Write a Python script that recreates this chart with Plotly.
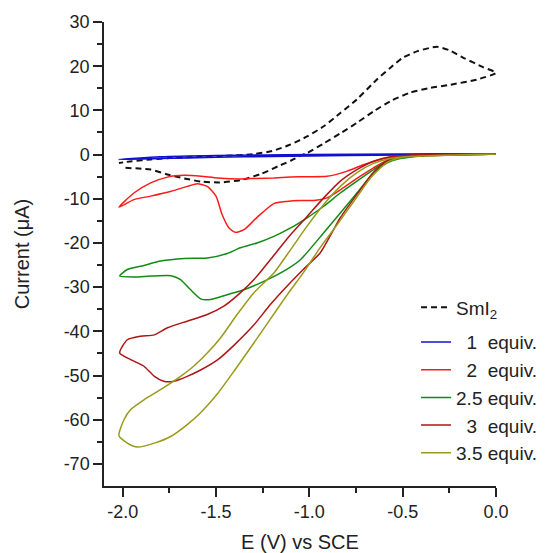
import plotly.graph_objects as go

# ---- data (E in V vs SCE, I in µA) ----
smi2_E = [-1.985, -1.90, -1.85, -1.76, -1.67, -1.58, -1.48, -1.37, -1.26, -1.155, -1.10, -1.05, -1.01,
          -0.92, -0.83, -0.745, -0.655, -0.565, -0.46, -0.35, -0.245, -0.10, 0.0,
          -0.07, -0.175, -0.25, -0.317, -0.42, -0.50, -0.567, -0.638, -0.745, -0.834, -0.923,
          -1.012, -1.10, -1.20, -1.30, -1.45, -1.60, -1.75, -1.85, -1.95, -2.02]
smi2_I = [-3.0, -3.2, -3.4, -4.5, -5.4, -6.1, -6.3, -5.8, -4.4, -2.4, -1.4, -0.3, 0.4,
          2.6, 4.9, 7.2, 9.8, 12.1, 14.0, 15.1, 15.8, 17.0, 18.5,
          19.8, 21.9, 23.6, 24.4, 23.4, 21.9, 19.6, 17.0, 12.5, 9.4, 6.4,
          4.1, 2.3, 0.8, 0.1, -0.3, -0.5, -0.8, -1.1, -1.5, -1.9]

eq1_E = [0.0, -0.5, -1.0, -1.5, -1.8, -2.02, -1.8, -1.5, -1.2, -0.8, -0.5, 0.0]
eq1_I = [0.2, 0.1, 0.0, -0.2, -0.5, -1.1, -0.9, -0.6, -0.4, -0.2, -0.1, 0.2]

eq2_E = [0.0, -0.26, -0.37, -0.513, -0.62, -0.71, -0.80, -0.905, -1.012, -1.10, -1.19, -1.29, -1.37,
         -1.49, -1.58, -1.67, -1.76, -1.85, -1.94, -2.02,
         -1.94, -1.85, -1.74, -1.654, -1.60, -1.547, -1.50, -1.467, -1.43, -1.396, -1.35, -1.28,
         -1.19, -1.12, -1.048, -0.977, -0.905, -0.817, -0.727, -0.656, -0.585, -0.513, -0.37, 0.0]
eq2_I = [0.1, 0.0, -0.1, -0.4, -1.1, -2.3, -3.8, -4.9, -5.0, -5.1, -5.3, -5.4, -5.5,
         -5.3, -4.9, -4.7, -5.1, -6.4, -8.7, -11.9,
         -10.2, -9.4, -8.3, -7.2, -6.6, -7.2, -9.4, -13.6, -16.6, -17.6, -17.0, -14.2,
         -11.1, -10.6, -10.4, -10.4, -9.8, -7.5, -4.9, -3.0, -1.3, -0.5, -0.2, 0.1]

eq25_E = [0.0, -0.39, -0.513, -0.585, -0.656, -0.745, -0.834, -0.923, -1.012, -1.10, -1.19, -1.28,
          -1.37, -1.44, -1.547, -1.67, -1.797, -1.886, -1.975, -2.016,
          -1.94, -1.85, -1.74, -1.69, -1.636, -1.58, -1.53, -1.44, -1.35, -1.244, -1.137, -1.048,
          -0.923, -0.834, -0.745, -0.656, -0.585, -0.513, -0.39, 0.0]
eq25_I = [0.1, -0.2, -0.75, -1.5, -3.4, -6.0, -8.7, -11.7, -14.3, -16.6, -18.5, -20.0,
          -21.1, -22.4, -23.4, -23.5, -24.1, -25.1, -26.0, -27.5,
          -27.7, -27.5, -27.4, -28.3, -30.6, -32.7, -32.8, -31.7, -30.6, -28.7, -26.4, -23.8,
          -17.7, -13.2, -8.7, -4.1, -1.9, -0.9, -0.3, 0.1]

eq3_E = [0.0, -0.45, -0.567, -0.656, -0.745, -0.834, -0.923, -1.012, -1.10, -1.19, -1.28, -1.37,
         -1.458, -1.547, -1.654, -1.76, -1.83, -1.904, -1.975, -2.016,
         -1.957, -1.886, -1.83, -1.78, -1.725, -1.654, -1.58, -1.49, -1.40, -1.30, -1.21, -1.12,
         -1.03, -0.941, -0.834, -0.745, -0.656, -0.585, -0.49, 0.0]
eq3_I = [0.1, -0.1, -0.5, -1.5, -3.4, -6.0, -9.8, -14.0, -18.1, -22.8, -27.5, -31.3,
         -34.3, -36.2, -37.7, -39.2, -40.8, -41.1, -41.9, -44.9,
         -46.4, -47.9, -50.2, -51.3, -51.3, -50.2, -48.7, -46.4, -43.0, -38.7, -34.0, -29.8,
         -25.9, -22.2, -14.3, -9.0, -4.0, -1.5, -0.4, 0.1]

eq35_E = [0.0, -0.45, -0.567, -0.656, -0.745, -0.834, -0.923, -1.012, -1.10, -1.19, -1.298, -1.387,
          -1.476, -1.547, -1.62, -1.69, -1.797, -1.886, -1.957, -1.993, -2.02,
          -1.975, -1.92, -1.83, -1.743, -1.654, -1.58, -1.49, -1.40, -1.30, -1.21, -1.12, -1.03,
          -0.941, -0.85, -0.76, -0.67, -0.585, -0.50, 0.0]
eq35_I = [0.1, -0.4, -0.9, -2.0, -4.1, -7.2, -11.3, -16.2, -21.5, -26.8, -31.3, -36.2,
          -41.5, -44.9, -47.9, -50.2, -53.2, -55.5, -57.7, -60.0, -63.6,
          -65.3, -66.2, -65.3, -63.8, -61.1, -58.3, -54.0, -48.8, -42.8, -37.3, -31.8, -26.6,
          -21.0, -15.8, -10.5, -5.2, -1.8, -0.6, 0.1]

series_names = ["SmI<sub>2</sub>",
                "\u00a0\u00a01\u00a0\u00a0equiv.",
                "\u00a0\u00a02\u00a0\u00a0equiv.",
                "2.5 equiv.",
                "\u00a0\u00a03\u00a0\u00a0equiv.",
                "3.5 equiv."]
series_E = [smi2_E, eq1_E, eq2_E, eq25_E, eq3_E, eq35_E]
series_I = [smi2_I, eq1_I, eq2_I, eq25_I, eq3_I, eq35_I]
colors = ["#111111", "#1010d0", "#ff1a1a", "#138a13", "#b01515", "#9a9a1a"]
dashes = ["6px,4px", "solid", "solid", "solid", "solid", "solid"]
widths = [2, 1.6, 1.5, 1.5, 1.5, 1.5]
legend_ids = ["legend", "legend2", "legend2", "legend2", "legend2", "legend2"]

x_ticks = [-2.0, -1.5, -1.0, -0.5, 0.0]
y_ticks = [-70, -60, -50, -40, -30, -20, -10, 0, 10, 20, 30]

fig = go.Figure()
for k, (name, xs, ys, c, d, w, lg) in enumerate(zip(series_names, series_E, series_I, colors,
                                                     dashes, widths, legend_ids)):
    fig.add_trace(go.Scatter(x=xs, y=ys, mode="lines", name=name, legendgroup=f"g{k}", legend=lg,
                             line=dict(color=c, dash=d, width=w, shape="spline", smoothing=0.6)))

font_family = "Liberation Sans, Arial, sans-serif"
axis_common = dict(showgrid=False, zeroline=False, showline=True, linecolor="#222",
                   linewidth=1.5, ticks="outside", ticklen=9, tickwidth=1.5, tickcolor="#222",
                   tickfont=dict(size=18, color="#222", family=font_family),
                   mirror=False)

fig.update_xaxes(range=[-2.1, 0.0], tickvals=x_ticks, ticktext=[f"{v:.1f}" for v in x_ticks],
                 minor=dict(tickvals=[-1.75, -1.25, -0.75, -0.25], ticklen=5, tickwidth=1.5,
                            tickcolor="#222", ticks="outside"),
                 title=dict(text="E (V) vs SCE", font=dict(size=20, color="#222", family=font_family),
                            standoff=14),
                 **axis_common)
fig.update_yaxes(range=[-75, 30], tickvals=y_ticks, ticktext=[str(v) for v in y_ticks],
                 minor=dict(tickvals=[-65, -55, -45, -35, -25, -15, -5, 5, 15, 25], ticklen=5,
                            tickwidth=1.5, tickcolor="#222", ticks="outside"),
                 title=dict(text="Current (μA)", font=dict(size=20, color="#222", family=font_family),
                            standoff=29),
                 **axis_common)

legend_style = dict(x=0.796, xanchor="left", yanchor="top", bgcolor="rgba(0,0,0,0)",
                    font=dict(size=19, color="#222", family=font_family), tracegroupgap=0)

fig.update_layout(
    width=545, height=545,
    margin=dict(l=96, r=57, t=14, b=67, autoexpand=False),
    paper_bgcolor="white", plot_bgcolor="white",
    font=dict(family=font_family, size=18, color="#222"),
    legend=dict(y=0.426, **legend_style),
    legend2=dict(y=0.351, **legend_style),
    showlegend=True,
)

fig.write_html("out.html")
